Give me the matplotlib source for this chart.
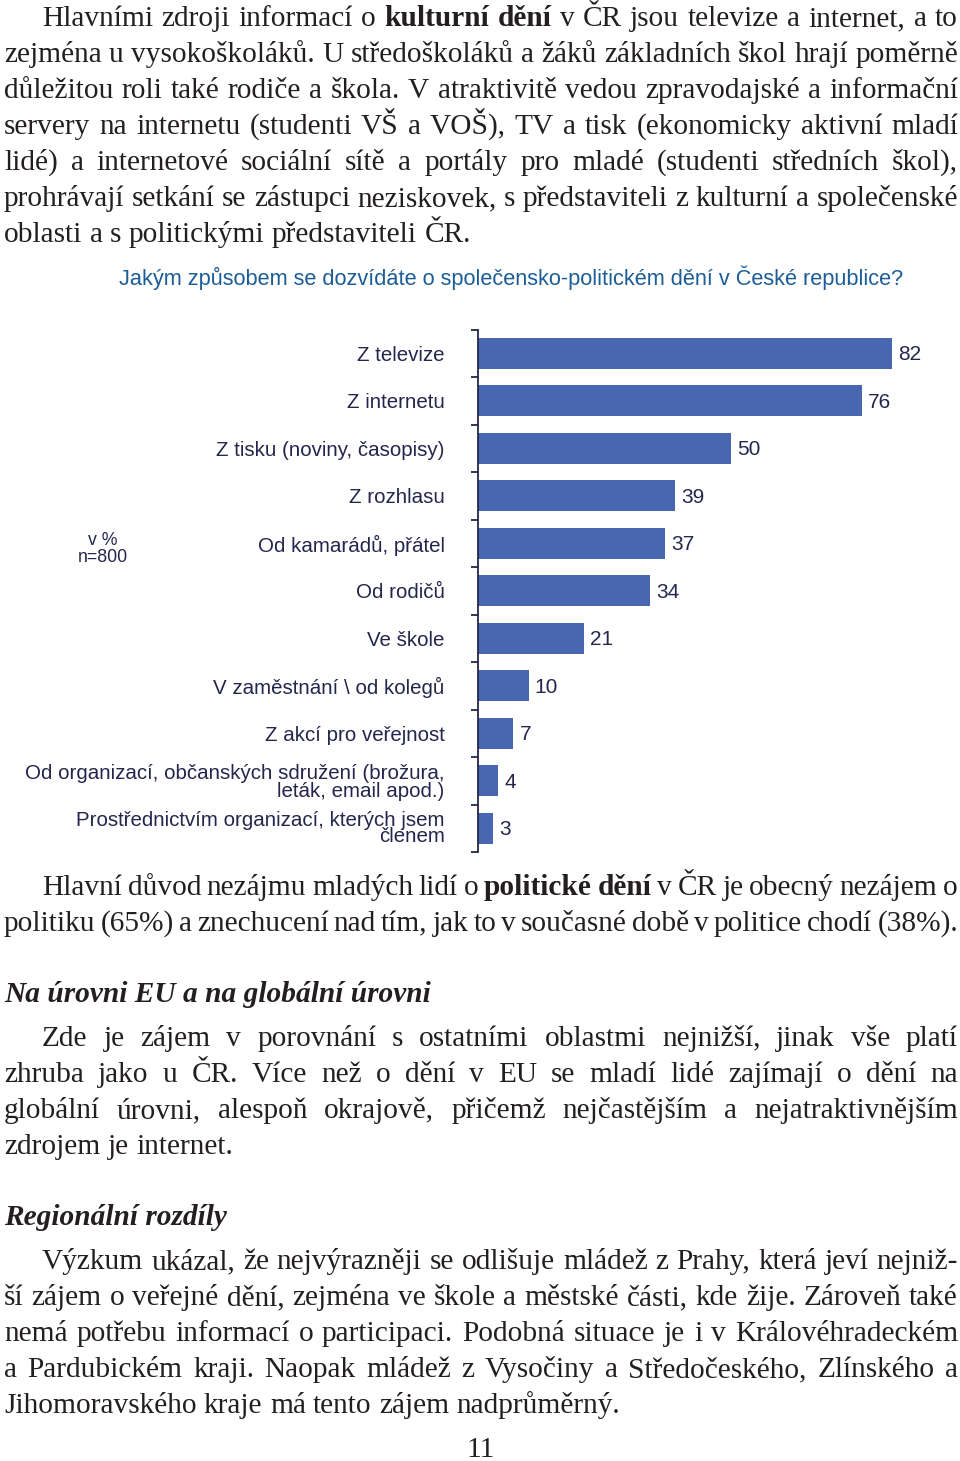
import matplotlib
matplotlib.use("Agg")
import matplotlib.pyplot as plt

W, H = 960, 1461
DPI = 100

# chart data
kategorie = [
    "Z televize",
    "Z internetu",
    "Z tisku (noviny, časopisy)",
    "Z rozhlasu",
    "Od kamarádů, přátel",
    "Od rodičů",
    "Ve škole",
    "V zaměstnání \\ od kolegů",
    "Z akcí pro veřejnost",
    "Od organizací, občanských sdružení (brožura,\nleták, email apod.)",
    "Prostřednictvím organizací, kterých jsem\nčlenem",
]
hodnoty = [82, 76, 50, 39, 37, 34, 21, 10, 7, 4, 3]
nadpis_grafu = "Jakým způsobem se dozvídáte o společensko-politickém dění v České republice?"
poznamka = "v %\nn=800"

# page text: each line = (runs, left x, justify)
odst1 = [
    ([("Hlavními zdroji informací o ", "n"), ("kulturní dění", "b"), (" v ČR jsou televize a internet, a to", "n")], 42, True),
    ([("zejména u vysokoškoláků. U středoškoláků a žáků základních škol hrají poměrně", "n")], 4, True),
    ([("důležitou roli také rodiče a škola. V atraktivitě vedou zpravodajské a informační", "n")], 4, True),
    ([("servery na internetu (studenti VŠ a VOŠ), TV a tisk (ekonomicky aktivní mladí", "n")], 4, True),
    ([("lidé) a internetové sociální sítě a portály pro mladé (studenti středních škol),", "n")], 4, True),
    ([("prohrávají setkání se zástupci neziskovek, s představiteli z kulturní a společenské", "n")], 4, True),
    ([("oblasti a s politickými představiteli ČR.", "n")], 4, False),
]
odst2 = [
    ([("Hlavní důvod nezájmu mladých lidí o ", "n"), ("politické dění", "b"), (" v ČR je obecný nezájem o", "n")], 42, True),
    ([("politiku (65%) a znechucení nad tím, jak to v současné době v politice chodí (38%).", "n")], 4, True),
]
nadpis2 = "Na úrovni EU a na globální úrovni"
odst3 = [
    ([("Zde je zájem v porovnání s ostatními oblastmi nejnižší, jinak vše platí", "n")], 42, True),
    ([("zhruba jako u ČR. Více než o dění v EU se mladí lidé zajímají o dění na", "n")], 4, True),
    ([("globální úrovni, alespoň okrajově, přičemž nejčastějším a nejatraktivnějším", "n")], 4, True),
    ([("zdrojem je internet.", "n")], 4, False),
]
nadpis3 = "Regionální rozdíly"
odst4 = [
    ([("Výzkum ukázal, že nejvýrazněji se odlišuje mládež z Prahy, která jeví nejniž-", "n")], 42, True),
    ([("ší zájem o veřejné dění, zejména ve škole a městské části, kde žije. Zároveň také", "n")], 4, True),
    ([("nemá potřebu informací o participaci. Podobná situace je i v Královéhradeckém", "n")], 4, True),
    ([("a Pardubickém kraji. Naopak mládež z Vysočiny a Středočeského, Zlínského a", "n")], 4, True),
    ([("Jihomoravského kraje má tento zájem nadprůměrný.", "n")], 4, False),
]

SERIF = "Liberation Serif"
SANS = "Liberation Sans"
TXT = "#231f20"
NAVY = "#25254d"
BAR = "#4967b0"
BODY_SIZE = 21.2

fig = plt.figure(figsize=(W / DPI, H / DPI), dpi=DPI)
page = fig.add_axes([0, 0, 1, 1])
page.set_xlim(0, W)
page.set_ylim(H, 0)
page.axis("off")
renderer = fig.canvas.get_renderer()

STYLES = {"n": dict(weight="normal", style="normal"),
          "b": dict(weight="bold", style="normal"),
          "i": dict(weight="bold", style="italic")}


def sirka(t):
    return t.get_window_extent(renderer).width


def radek(runs, y, x0, justify, x1=958):
    words = []
    for text, st in runs:
        for w in text.split():
            words.append((w, st))
    arts = []
    for w, st in words:
        t = page.text(0, y, w, fontsize=BODY_SIZE, family=SERIF, color=TXT,
                      va="baseline", ha="left", **STYLES[st])
        arts.append(t)
    widths = [sirka(t) for t in arts]
    if justify and len(arts) > 1:
        gap = (x1 - x0 - sum(widths)) / (len(arts) - 1)
    else:
        a = page.text(0, 0, "x x", fontsize=BODY_SIZE, family=SERIF)
        b = page.text(0, 0, "xx", fontsize=BODY_SIZE, family=SERIF)
        gap = sirka(a) - sirka(b)
        a.remove(); b.remove()
    x = x0
    for t, w in zip(arts, widths):
        t.set_x(x)
        x += w + gap


def odstavec(lines, y0, step=36):
    for i, (runs, x0, just) in enumerate(lines):
        radek(runs, y0 + i * step, x0, just)


odstavec(odst1, 26)
odstavec(odst2, 895)
page.text(4, 1002, nadpis2, fontsize=BODY_SIZE, family=SERIF, color=TXT,
          va="baseline", ha="left", weight="bold", style="italic")
odstavec(odst3, 1046)
page.text(4, 1225, nadpis3, fontsize=BODY_SIZE, family=SERIF, color=TXT,
          va="baseline", ha="left", weight="bold", style="italic")
odstavec(odst4, 1269)
page.text(481, 1457, "11", fontsize=BODY_SIZE, family=SERIF, color=TXT,
          va="baseline", ha="center")

# chart title and note
page.text(511, 278, nadpis_grafu, fontsize=15.7, family=SANS, color="#1c5d96",
          va="center", ha="center")
page.text(103, 549, poznamka, fontsize=12.8, family=SANS, color=NAVY,
          va="center", ha="center", linespacing=1.05)

# bar chart
ax_l, ax_top, ax_bot = 478, 329.5, 852
ax_w = 480
ax = fig.add_axes([ax_l / W, (H - ax_bot) / H, ax_w / W, (ax_bot - ax_top) / H])
pos = list(range(len(kategorie)))
bars = ax.barh(pos, hodnoty, height=0.65, color=BAR, edgecolor="none")
ax.set_xlim(0, ax_w / 5.05)
ax.set_ylim(len(kategorie) - 0.5, -0.5)
for s in ["top", "right", "bottom"]:
    ax.spines[s].set_visible(False)
ax.spines["left"].set_color(NAVY)
ax.spines["left"].set_linewidth(1.3)
ax.set_xticks([])
ax.set_yticks(pos)
ax.set_yticklabels(kategorie, fontsize=14.8, family=SANS, color=NAVY, linespacing=0.95)
labels = ax.get_yticklabels()
labels[-1].set_linespacing(0.8)
ax.tick_params(axis="y", which="major", length=0, pad=24)
ax.set_yticks([p - 0.5 for p in pos] + [len(pos) - 0.5], minor=True)
ax.tick_params(axis="y", which="minor", length=5, width=1.3, color=NAVY, direction="out")
for b, v in zip(bars, hodnoty):
    ax.annotate(str(v), (b.get_width(), b.get_y() + b.get_height() / 2),
                xytext=(4.5, -1), textcoords="offset points", ha="left", va="center",
                fontsize=15, family=SANS, color=NAVY)
ax.patch.set_alpha(0)

fig.savefig("out.png", dpi=DPI)
